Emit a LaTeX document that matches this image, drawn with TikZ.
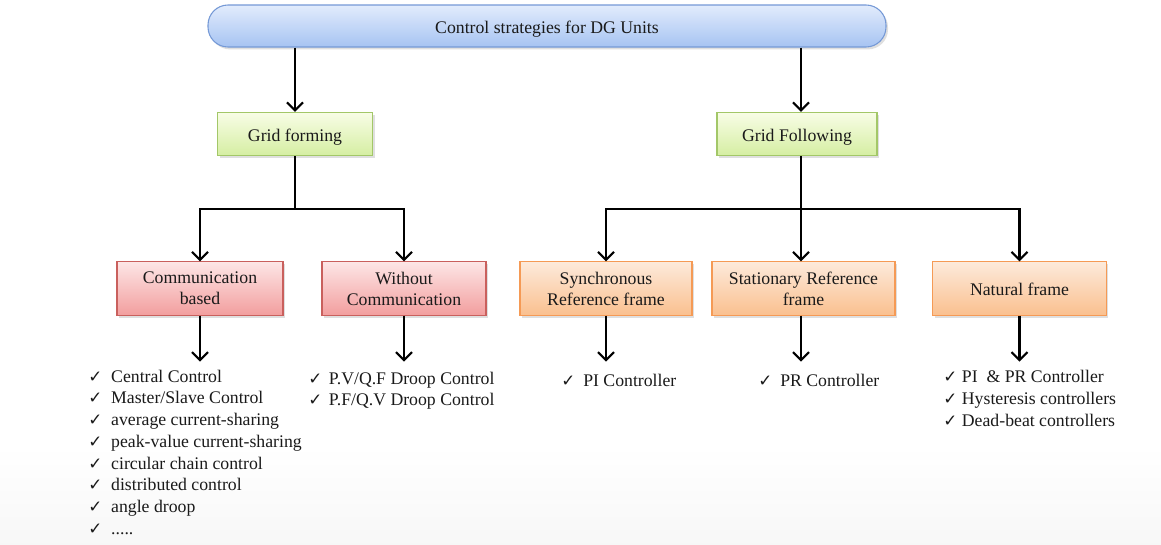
\documentclass[tikz,border=0pt]{standalone}
\usepackage{fontspec}
\setmainfont{Liberation Serif}
\newfontfamily\ckfont{DejaVu Sans}
\usetikzlibrary{arrows.meta,shadows}

% check-marked item with a fixed gap before the text
\newcommand\ckitem[1]{\makebox[#1][l]{\ckfont\fontsize{12.5}{12}\selectfont ✓}}

\definecolor{txt}{HTML}{1A1A1A}
\definecolor{blueTop}{HTML}{E2ECFC}
\definecolor{blueBot}{HTML}{A6C3F2}
\definecolor{blueLine}{HTML}{7599D6}
\definecolor{grnTop}{HTML}{F8FDE6}
\definecolor{grnBot}{HTML}{D5EEA2}
\definecolor{grnLine}{HTML}{A3C768}
\definecolor{redTop}{HTML}{FDE6E6}
\definecolor{redBot}{HTML}{F29E9E}
\definecolor{redLine}{HTML}{C9605D}
\definecolor{orTop}{HTML}{FDEADB}
\definecolor{orBot}{HTML}{FAC08F}
\definecolor{orLine}{HTML}{F59A55}

\tikzset{
  base/.style={rectangle, draw, line width=0.8pt, align=center, text=txt,
    font=\fontsize{13.3}{15.8}\selectfont, inner sep=2pt,
    drop shadow={opacity=0.25, shadow xshift=1.5pt, shadow yshift=-1.8pt}},
  oneline/.style={text height=11pt, text depth=0pt},
  rootbox/.style={base, oneline, rounded corners=15pt, draw=blueLine,
    top color=blueTop, bottom color=blueBot,
    minimum width=508.5pt, minimum height=31.5pt},
  greenbox/.style={base, oneline, draw=grnLine, top color=grnTop, bottom color=grnBot,
    minimum height=32.5pt},
  redbox/.style={base, draw=redLine, top color=redTop, bottom color=redBot,
    minimum height=40pt},
  orangebox/.style={base, draw=orLine, top color=orTop, bottom color=orBot,
    minimum height=40pt},
  itemlist/.style={align=left, text=txt, inner sep=0pt, anchor=north west,
    font=\fontsize{13.3}{16.3}\selectfont},
  conn/.style={line width=1.6pt, black},
  arr/.style={conn, -{Straight Barb[length=6pt, width=12pt]}},
}

\begin{document}
\begin{tikzpicture}[x=0.75pt, y=-0.75pt]
  \useasboundingbox (0,0) rectangle (1161,544);
  \fill[white] (0,0) rectangle (1161,544);
  % faint grey fade along the lower edge
  \shade[top color=white, bottom color=black!3, draw=none] (0,445) rectangle (1161,544);

  % boxes
  \node[rootbox] (root) at (547,26) {Control strategies for DG Units};

  \node[greenbox, minimum width=116.25pt] (gform) at (295,134) {Grid forming};
  \node[greenbox, minimum width=120pt] (gfoll) at (797,134) {Grid Following};

  \node[redbox, minimum width=124.5pt] (comm) at (200,288.5) {Communication\\based};
  \node[redbox, minimum width=123pt] (nocomm) at (404,288.5) {Without\\Communication};

  \node[orangebox, minimum width=129pt] (sync) at (606,288.5) {Synchronous\\Reference frame};
  \node[orangebox, minimum width=137.25pt] (stat) at (803.5,288.5) {Stationary Reference\\frame};
  \node[orangebox, oneline, minimum width=130pt] (nat) at (1019.5,288.5) {Natural frame};

  % item lists
  \node[itemlist] (commL) at (88,369.5) {%
    \ckitem{17.2pt}Central Control\\
    \ckitem{17.2pt}Master/Slave Control\\
    \ckitem{17.2pt}average current-sharing\\
    \ckitem{17.2pt}peak-value current-sharing\\
    \ckitem{17.2pt}circular chain control\\
    \ckitem{17.2pt}distributed control\\
    \ckitem{17.2pt}angle droop\\
    \ckitem{17.2pt}.....};
  \node[itemlist] (nocommL) at (308,371.5) {%
    \ckitem{15.5pt}P.V/Q.F Droop Control\\
    \ckitem{15.5pt}P.F/Q.V Droop Control};
  \node[itemlist] (syncL) at (561,373.5) {\ckitem{16.5pt}PI Controller};
  \node[itemlist] (statL) at (758,373.5) {\ckitem{16.5pt}PR Controller};
  \node[itemlist] (natL) at (943,370) {%
    \ckitem{14pt}PI~ \& PR Controller\\
    \ckitem{14pt}Hysteresis controllers\\
    \ckitem{14pt}Dead-beat controllers};

  % junction points of the branches
  \coordinate (jform) at (295,209);
  \coordinate (jfoll) at (801,209);

  % connectors
  \draw[arr] (root.south -| gform.north) -- (gform.north);
  \draw[arr] (root.south -| jfoll) -- (jfoll |- gfoll.north);

  \draw[conn] (gform.south) -- (jform);
  \draw[arr] (jform) -| (comm.north);
  \draw[arr] (jform) -| (nocomm.north);

  \draw[conn] (jfoll |- gfoll.south) -- (jfoll);
  \draw[arr] (jfoll) -| (sync.north);
  \draw[arr] (jfoll) -- (jfoll |- stat.north);
  \draw[arr] (jfoll) -| (nat.north);

  \draw[arr] (comm.south) -- ++(0,46);
  \draw[arr] (nocomm.south) -- ++(0,46);
  \draw[arr] (sync.south) -- ++(0,46);
  \draw[arr] (jfoll |- stat.south) -- ++(0,46);
  \draw[arr] (nat.south) -- ++(0,46);
\end{tikzpicture}
\end{document}
